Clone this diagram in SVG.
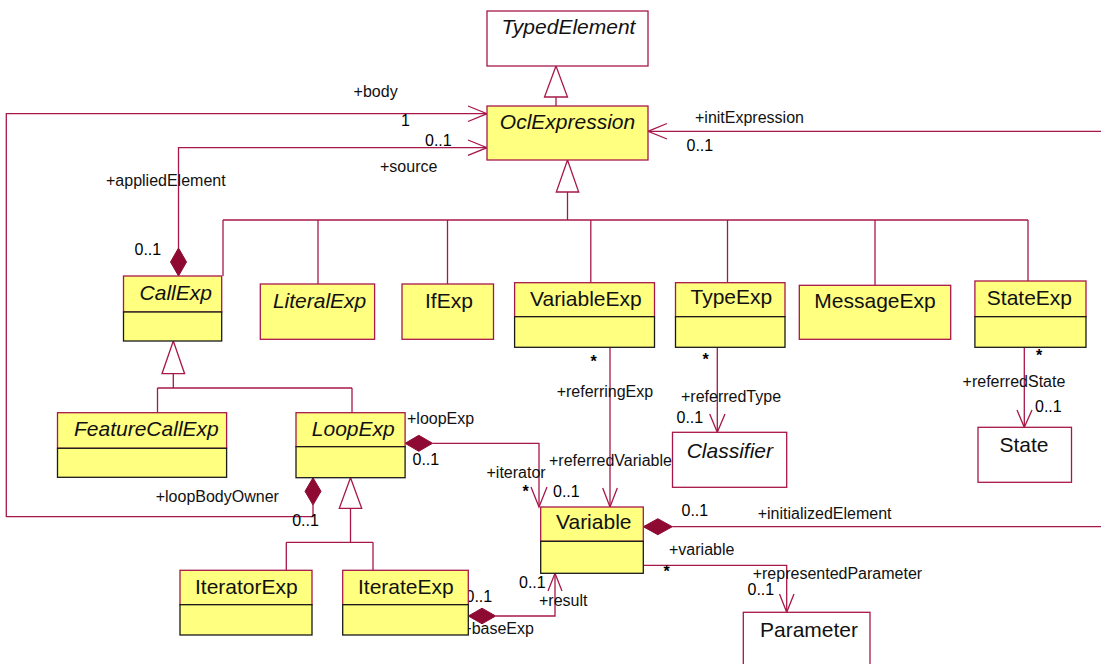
<svg xmlns="http://www.w3.org/2000/svg" width="1101" height="664" viewBox="0 0 1101 664">
<style>
.bg{fill:#ffffff}
.cls{fill:#ffff80;stroke:#a8174a;stroke-width:1.3}
.low{fill:#ffff80;stroke:#1a1a1a;stroke-width:1.3}
.wht{fill:#ffffff;stroke:#a8174a;stroke-width:1.3}
.ln{fill:none;stroke:#a8174a;stroke-width:1.3}
.gen{fill:#ffffff;stroke:#a8174a;stroke-width:1.3}
.dia{fill:#8e0a33;stroke:#8e0a33;stroke-width:1}
.nm{font-family:"Liberation Sans",Arial,sans-serif;font-size:21px;fill:#111}
.it{font-style:italic}
.lb{font-family:"Liberation Sans",Arial,sans-serif;font-size:16px;fill:#111}
.mu{font-family:"Liberation Sans",Arial,sans-serif;font-size:16px;fill:#000}
.st{font-family:"Liberation Sans",Arial,sans-serif;font-size:16px;font-weight:bold;fill:#000}
</style>
<rect class="bg" x="0" y="0" width="1101" height="664"/>

<g id="connectors">
  <line class="ln" x1="556" y1="106" x2="556" y2="97"/>
  <polygon class="gen" points="556,66 544.5,97 567.5,97"/>
  <polygon class="gen" points="567.5,160 556.3,192 578.7,192"/>
  <polyline class="ln" points="567.5,192 567.5,220"/>
  <line class="ln" x1="223" y1="220" x2="1028" y2="220"/>
  <line class="ln" x1="223" y1="220" x2="223" y2="276"/>
  <line class="ln" x1="318" y1="220" x2="318" y2="284"/>
  <line class="ln" x1="447.5" y1="220" x2="447.5" y2="284"/>
  <line class="ln" x1="590.8" y1="220" x2="590.8" y2="282.7"/>
  <line class="ln" x1="727.5" y1="220" x2="727.5" y2="282.7"/>
  <line class="ln" x1="875" y1="220" x2="875" y2="285.3"/>
  <line class="ln" x1="1028" y1="220" x2="1028" y2="281"/>
  <polygon class="gen" points="173.3,341 162,373.7 184.6,373.7"/>
  <line class="ln" x1="173.3" y1="373.7" x2="173.3" y2="388"/>
  <line class="ln" x1="157.5" y1="388" x2="352" y2="388"/>
  <line class="ln" x1="157.5" y1="388" x2="157.5" y2="412.7"/>
  <line class="ln" x1="352" y1="388" x2="352" y2="412.7"/>
  <polygon class="gen" points="350.5,477.7 339.3,508.3 361.7,508.3"/>
  <line class="ln" x1="350.5" y1="508.3" x2="350.5" y2="542.3"/>
  <line class="ln" x1="286.3" y1="542.3" x2="373" y2="542.3"/>
  <line class="ln" x1="286.3" y1="542.3" x2="286.3" y2="570.3"/>
  <line class="ln" x1="373" y1="542.3" x2="373" y2="570.3"/>
  <polyline class="ln" points="313,505 313,516.7 6.3,516.7 6.3,113.7 487,113.7"/>
  <polyline class="ln" points="468,106 487,113.7 468,121.5"/>
  <polygon class="dia" points="313,477.7 321,491.3 313,505 305,491.3"/>
  <polygon class="dia" points="178.5,248 186.5,262 178.5,276 170.5,262"/>
  <polyline class="ln" points="178.5,248 178.5,147.7 487,147.7"/>
  <polyline class="ln" points="468,140 487,147.7 468,155.3"/>
  <line class="ln" x1="1101" y1="131.3" x2="648" y2="131.3"/>
  <polyline class="ln" points="667,123.5 648,131.3 667,139"/>
  <polygon class="dia" points="405.1,443.3 418.8,435.3 432.5,443.3 418.8,451.3"/>
  <polyline class="ln" points="432.5,443.3 539,443.3 539,507"/>
  <polyline class="ln" points="531,487 539,507 547,487"/>
  <line class="ln" x1="610" y1="347.3" x2="610" y2="507"/>
  <polyline class="ln" points="602.7,488 610,507 617.3,488"/>
  <line class="ln" x1="717.3" y1="347.3" x2="717.3" y2="432.3"/>
  <polyline class="ln" points="709.7,414 717.3,432.3 725,414"/>
  <line class="ln" x1="1024.3" y1="347.3" x2="1024.3" y2="427.3"/>
  <polyline class="ln" points="1017,410 1024.3,427.3 1032,410"/>
  <polygon class="dia" points="468.3,616 482,608.2 495.7,616 482,623.8"/>
  <polyline class="ln" points="495.7,616 555,616 555,573.3"/>
  <polyline class="ln" points="548,591 555,573.3 562,591"/>
  <polygon class="dia" points="643.3,526.7 657.8,518.7 672.3,526.7 657.8,534.7"/>
  <line class="ln" x1="672.3" y1="526.7" x2="1101" y2="526.7"/>
  <polyline class="ln" points="643.3,565.3 786.7,565.3 786.7,612.3"/>
  <polyline class="ln" points="779.5,594 786.7,612.3 794,594"/>

  <text class="lb" x="353.6" y="97">+body</text>
  <text class="mu" x="401" y="126">1</text>
  <text class="mu" x="425" y="146">0..1</text>
  <text class="lb" x="380" y="172">+source</text>
  <text class="lb" x="106" y="186">+appliedElement</text>
  <text class="mu" x="134.5" y="255">0..1</text>
  <text class="lb" x="695" y="122.5">+initExpression</text>
  <text class="mu" x="686.5" y="151">0..1</text>
  <text class="lb" x="407" y="424">+loopExp</text>
  <text class="mu" x="412.5" y="465">0..1</text>
  <text class="lb" x="486.5" y="478">+iterator</text>
  <text class="st" x="522.5" y="497">*</text>
  <text class="mu" x="553" y="496.7">0..1</text>
  <text class="lb" x="155.7" y="502">+loopBodyOwner</text>
  <text class="mu" x="292.2" y="525.7">0..1</text>
  <text class="lb" x="556.7" y="397">+referringExp</text>
  <text class="lb" x="549" y="466">+referredVariable</text>
  <text class="st" x="590.5" y="367">*</text>
  <text class="st" x="702.5" y="365">*</text>
  <text class="lb" x="681" y="401.7">+referredType</text>
  <text class="mu" x="676.5" y="423.3">0..1</text>
  <text class="st" x="1036" y="361">*</text>
  <text class="lb" x="962.6" y="387.3">+referredState</text>
  <text class="mu" x="1035" y="411.7">0..1</text>
  <text class="mu" x="519" y="588.3">0..1</text>
  <text class="lb" x="539" y="605.7">+result</text>
  <text class="mu" x="465.5" y="602.3">0..1</text>
  <text class="lb" x="462.3" y="634">+baseExp</text>
  <text class="mu" x="681.5" y="515.7">0..1</text>
  <text class="lb" x="757.7" y="519.3">+initializedElement</text>
  <text class="lb" x="669" y="555">+variable</text>
  <text class="st" x="663.5" y="577">*</text>
  <text class="lb" x="752.7" y="579.3">+representedParameter</text>
  <text class="mu" x="747.5" y="595">0..1</text>
</g>

<g id="TypedElement">
  <rect class="wht" x="487" y="11" width="161" height="55"/>
  <text class="nm it" x="501.6" y="33.5">TypedElement</text>
</g>
<g id="OclExpression">
  <rect class="cls" x="487" y="106" width="161" height="54"/>
  <text class="nm it" x="499.8" y="129">OclExpression</text>
</g>
<g id="CallExp">
  <rect class="cls" x="123.5" y="276" width="98.2" height="36"/>
  <rect class="low" x="123.5" y="312" width="98.2" height="29"/>
  <text class="nm it" x="139.6" y="300">CallExp</text>
</g>
<g id="LiteralExp">
  <rect class="cls" x="260.3" y="284" width="114.3" height="55.3"/>
  <text class="nm it" x="272.9" y="308">LiteralExp</text>
</g>
<g id="IfExp">
  <rect class="cls" x="402" y="284" width="91.5" height="55.3"/>
  <text class="nm" x="425" y="308">IfExp</text>
</g>
<g id="VariableExp">
  <rect class="cls" x="514.6" y="282.7" width="139.9" height="34"/>
  <rect class="low" x="514.6" y="316.7" width="139.9" height="30.6"/>
  <text class="nm" x="530" y="306">VariableExp</text>
</g>
<g id="TypeExp">
  <rect class="cls" x="675.5" y="282.7" width="109.5" height="34"/>
  <rect class="low" x="675.5" y="316.7" width="109.5" height="30.6"/>
  <text class="nm" x="690.5" y="304">TypeExp</text>
</g>
<g id="MessageExp">
  <rect class="cls" x="799.3" y="285.3" width="151.4" height="54"/>
  <text class="nm" x="814.3" y="308">MessageExp</text>
</g>
<g id="StateExp">
  <rect class="cls" x="974.9" y="281" width="111.1" height="35.7"/>
  <rect class="low" x="974.9" y="316.7" width="111.1" height="30.6"/>
  <text class="nm" x="986.8" y="305">StateExp</text>
</g>
<g id="FeatureCallExp">
  <rect class="cls" x="57.5" y="412.7" width="169.1" height="35.6"/>
  <rect class="low" x="57.5" y="448.3" width="169.1" height="29"/>
  <text class="nm it" x="74" y="436">FeatureCallExp</text>
</g>
<g id="LoopExp">
  <rect class="cls" x="296" y="412.7" width="109.1" height="34"/>
  <rect class="low" x="296" y="446.7" width="109.1" height="31"/>
  <text class="nm it" x="311.8" y="436">LoopExp</text>
</g>
<g id="IteratorExp">
  <rect class="cls" x="180" y="570.3" width="132" height="34.4"/>
  <rect class="low" x="180" y="604.7" width="132" height="30.3"/>
  <text class="nm" x="195" y="594">IteratorExp</text>
</g>
<g id="IterateExp">
  <rect class="cls" x="342.7" y="570.3" width="125.6" height="34.4"/>
  <rect class="low" x="342.7" y="604.7" width="125.6" height="30.3"/>
  <text class="nm" x="358" y="594">IterateExp</text>
</g>
<g id="Variable">
  <rect class="cls" x="540.7" y="507" width="102.6" height="34.3"/>
  <rect class="low" x="540.7" y="541.3" width="102.6" height="32"/>
  <text class="nm" x="556" y="529.3">Variable</text>
</g>
<g id="Classifier">
  <rect class="wht" x="672.5" y="432.3" width="114.2" height="55"/>
  <text class="nm it" x="686.7" y="457.5">Classifier</text>
</g>
<g id="State">
  <rect class="wht" x="978" y="427.3" width="93.5" height="55"/>
  <text class="nm" x="999.4" y="451.5">State</text>
</g>
<g id="Parameter">
  <rect class="wht" x="743.3" y="612.3" width="126.7" height="60"/>
  <text class="nm" x="760" y="636.5">Parameter</text>
</g>
</svg>
